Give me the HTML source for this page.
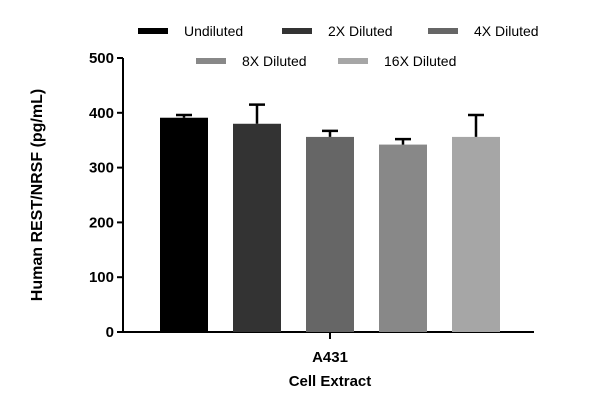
<!DOCTYPE html>
<html><head><meta charset="utf-8"><style>
body{margin:0;background:#fff;}
svg{display:block;font-family:"Liberation Sans",sans-serif;}
</style></head><body>
<svg id="chart" width="600" height="412" viewBox="0 0 600 412">
<g id="legend"></g>
<g id="axes"></g>
<g id="bars"></g>
<text x="0" y="0" transform="translate(42,195) rotate(-90)" text-anchor="middle" font-size="16" font-weight="bold">Human REST/NRSF (pg/mL)</text>
<text x="330" y="362" text-anchor="middle" font-size="15" font-weight="bold">A431</text>
<text x="330" y="386" text-anchor="middle" font-size="15" font-weight="bold">Cell Extract</text>
</svg>
<script>
const series = ["Undiluted","2X Diluted","4X Diluted","8X Diluted","16X Diluted"];
const values = [391, 380, 356, 342, 356];
const errors = [5, 35, 11, 10, 40];
const yTicks = [0,100,200,300,400,500];
const colors = ["#000000","#333333","#666666","#888888","#a6a6a6"];
const NS="http://www.w3.org/2000/svg";
const y0=332, y500=58, axX=123;
function yScale(v){return y0-(v/500)*(y0-y500);}
function xScale(i){return 160+i*73;}
const bw=48;
function mk(tag,attrs,parent){const e=document.createElementNS(NS,tag);for(const k in attrs)e.setAttribute(k,attrs[k]);parent.appendChild(e);return e;}
const axes=document.getElementById('axes');
let l=mk('line',{x1:axX,y1:y500,x2:axX,y2:y0+1,stroke:'#000','stroke-width':2},axes);


l=mk('line',{x1:axX-1,y1:y0,x2:534,y2:y0,stroke:'#000','stroke-width':2},axes);


l=mk('line',{x1:330,y1:y0,x2:330,y2:339,stroke:'#000','stroke-width':2},axes);


yTicks.forEach(t=>{
  const y=yScale(t);
  const tk=mk('line',{x1:axX-6,y1:y,x2:axX,y2:y,stroke:'#000','stroke-width':2},axes);
  
  
  const tx=mk('text',{x:axX-9,y:y+5,'text-anchor':'end','font-size':15,'font-weight':'bold'},axes);
  tx.textContent=t;
  
  
});
const bars=document.getElementById('bars');
values.forEach((v,i)=>{
  const x=xScale(i), y=yScale(v), cx=x+bw/2, ye=yScale(v+errors[i]);
  const r=mk('rect',{x:x,y:y,width:bw,height:y0-y,fill:colors[i]},bars);
  
  
  const e=mk('path',{d:`M${cx},${y} V${ye} M${cx-8},${ye} H${cx+8}`,stroke:'#000','stroke-width':2.5,fill:'none'},bars);
  
  
});
const legend=document.getElementById('legend');
const legPos=[[138,31],[282,31],[428,31],[196,61],[338,61]];
series.forEach((s,i)=>{
  const [x,y]=legPos[i];
  const sw=mk('rect',{x:x,y:y-3,width:30,height:6,fill:colors[i]},legend);
  
  
  const t=mk('text',{x:x+46,y:y+5,'font-size':14,fill:'#000'},legend);
  t.textContent=s;
  
  
});
</script>
</body></html>
